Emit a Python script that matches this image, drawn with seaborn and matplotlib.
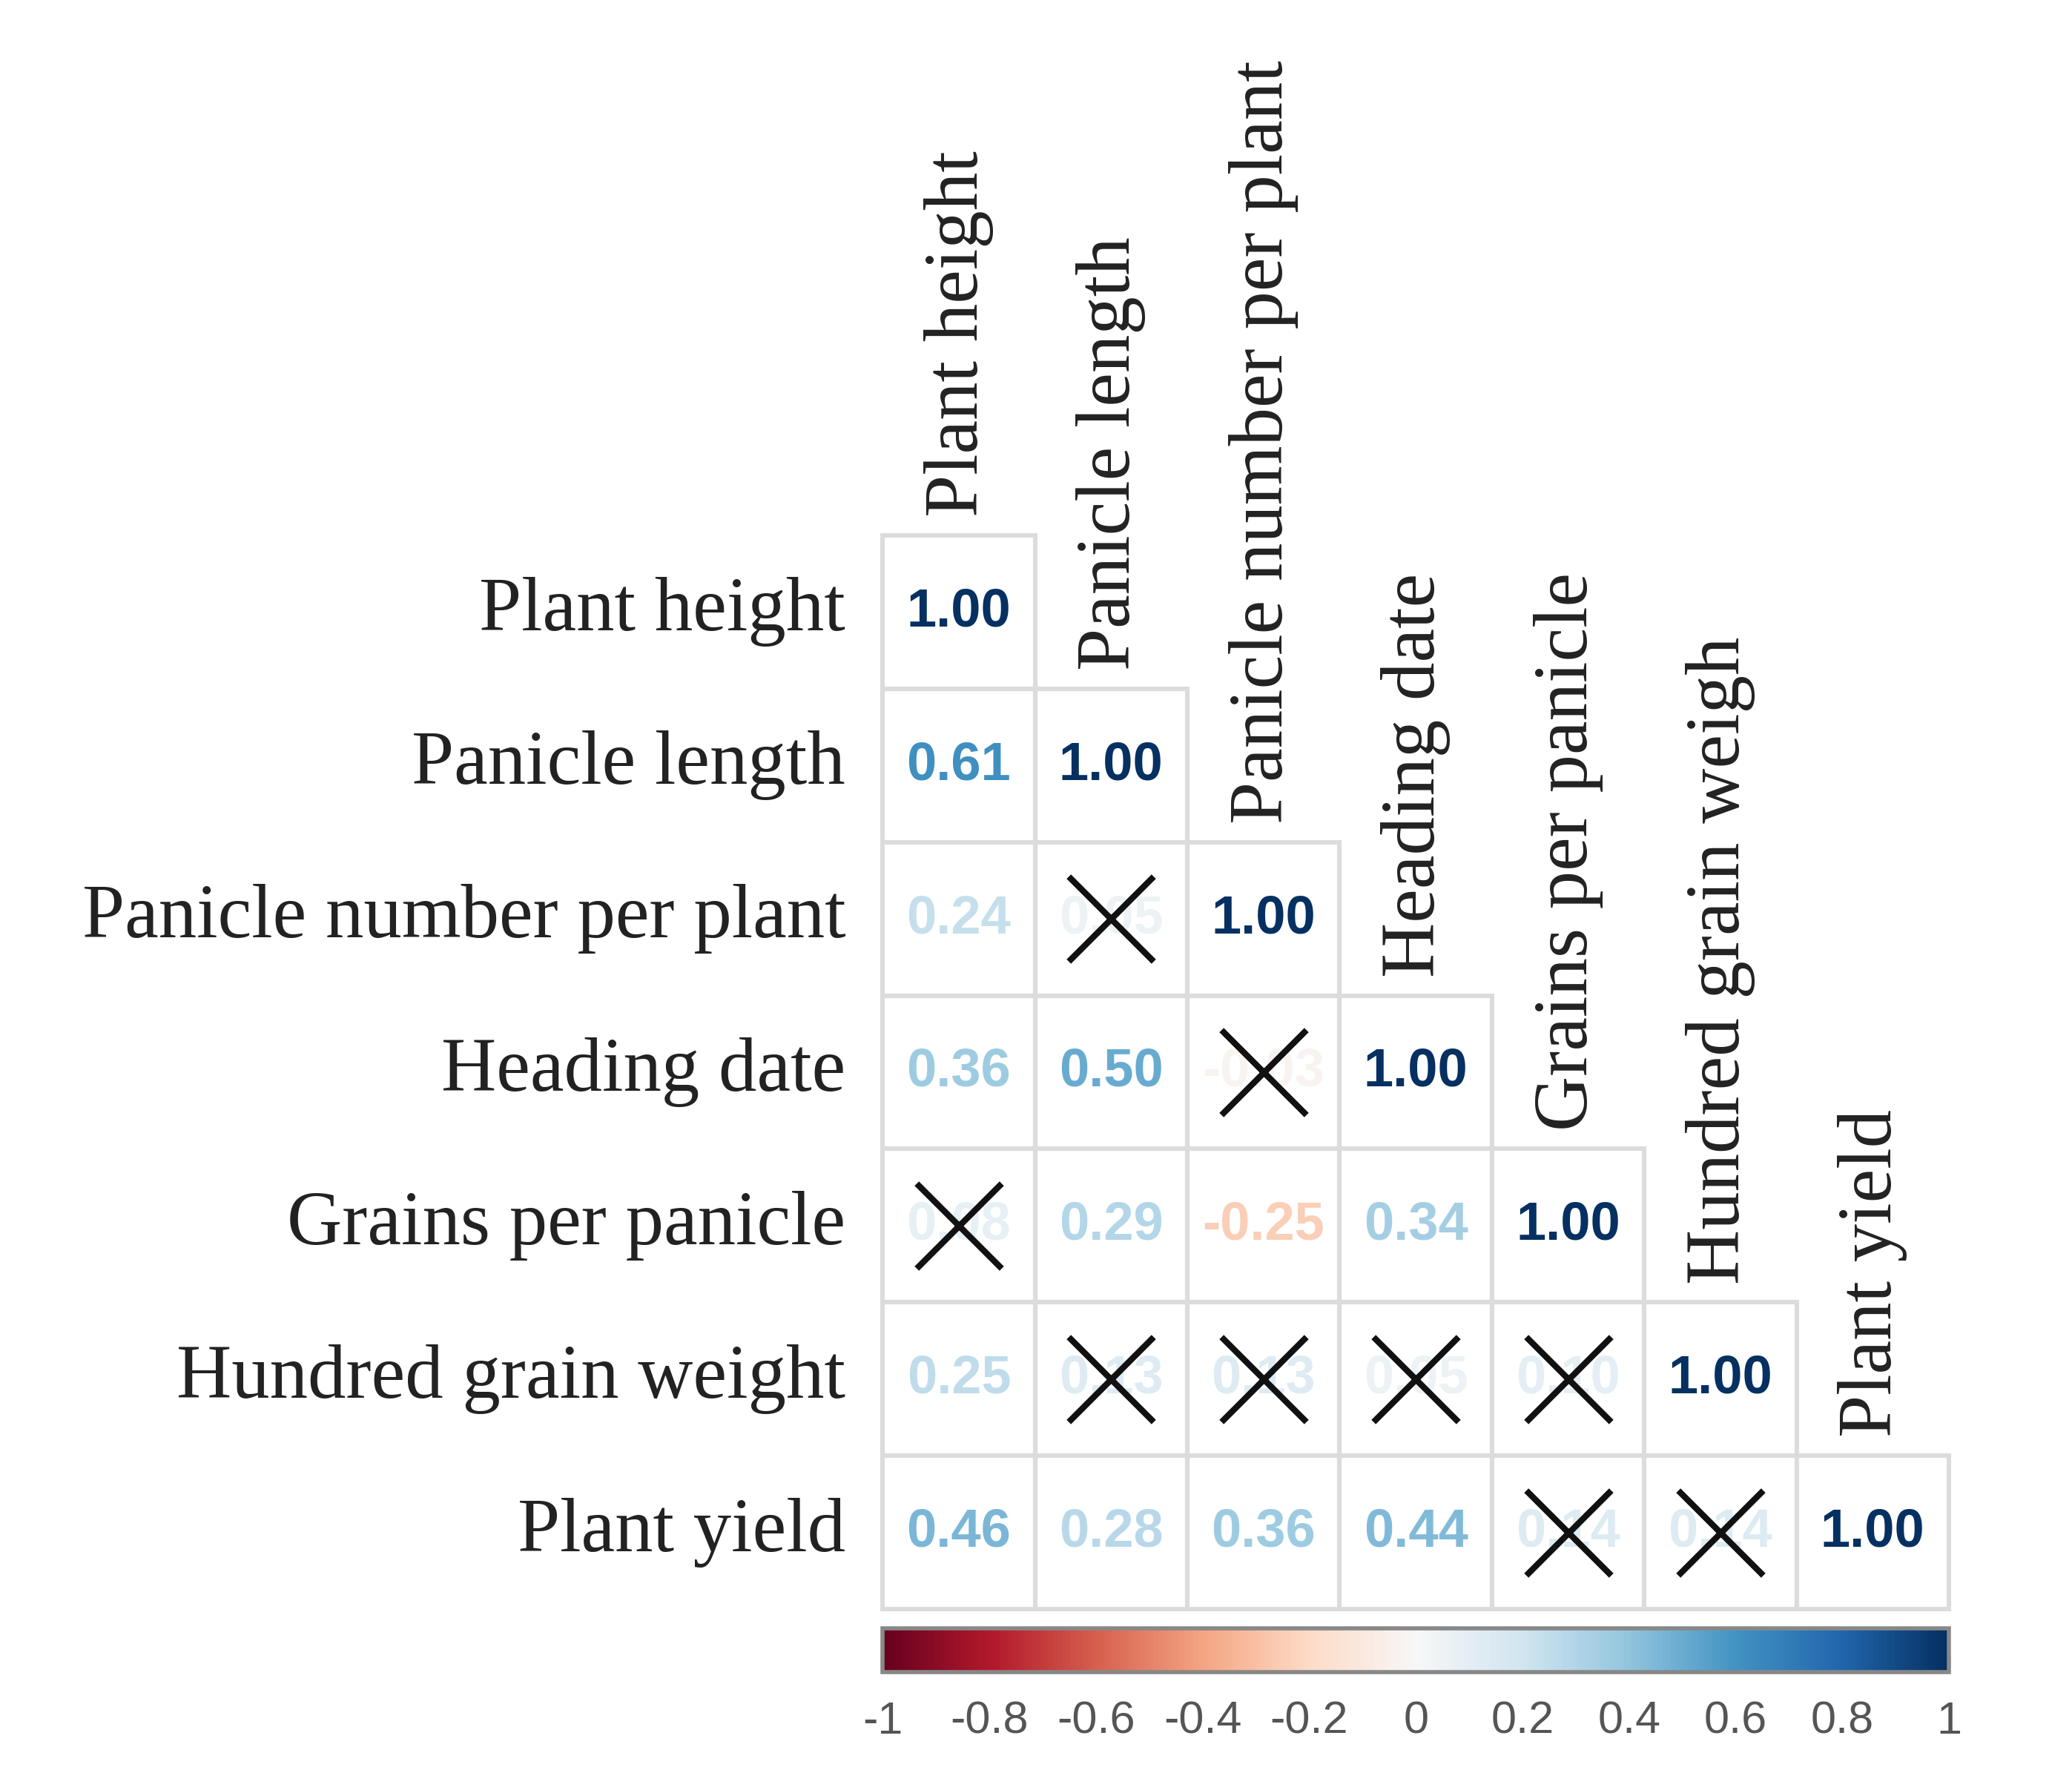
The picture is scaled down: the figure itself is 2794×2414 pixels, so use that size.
import numpy as np
import pandas as pd
import matplotlib
matplotlib.use('Agg')
import matplotlib.pyplot as plt
import seaborn as sns
from matplotlib.colors import ListedColormap, Normalize
from matplotlib.patches import Rectangle

# Trait names
traits = ['Plant height', 'Panicle length', 'Panicle number per plant',
          'Heading date', 'Grains per panicle', 'Hundred grain weight', 'Plant yield']
col_labels = ['Plant height', 'Panicle length', 'Panicle number per plant',
              'Heading date', 'Grains per panicle', 'Hundred grain weigh', 'Plant yield']

# Lower triangle correlations, row by row
r_ph = [1.00]
r_pl = [0.61, 1.00]
r_pn = [0.24, 0.05, 1.00]
r_hd = [0.36, 0.50, -0.03, 1.00]
r_gp = [0.08, 0.29, -0.25, 0.34, 1.00]
r_hg = [0.25, 0.13, 0.13, 0.05, 0.10, 1.00]
r_py = [0.46, 0.28, 0.36, 0.44, 0.14, 0.14, 1.00]

# Non-significant cells (row, col) marked with a cross
nonsig = [(2, 1), (3, 2), (4, 0), (5, 1), (5, 2), (5, 3), (5, 4), (6, 4), (6, 5)]

n = len(traits)
corr = np.zeros((n, n))
for i, row in enumerate([r_ph, r_pl, r_pn, r_hd, r_gp, r_hg, r_py]):
    corr[i, :len(row)] = row
    corr[:len(row), i] = row
corr_df = pd.DataFrame(corr, index=traits, columns=traits)
mask = np.triu(np.ones((n, n), dtype=bool), k=1)

sns.set_style('white')
plt.rcParams['font.family'] = ['Liberation Serif', 'DejaVu Serif']

fig = plt.figure(figsize=(13.97, 12.07), dpi=200)
ax = fig.add_axes([0.426, 0.101, 0.5146, 0.600])

# White cells, values coloured by RdBu
sns.heatmap(corr_df, mask=mask, cmap=ListedColormap(['white']), cbar=False,
            linewidths=0, square=False, ax=ax,
            xticklabels=False, yticklabels=True)

# grey borders only around the lower-triangle cells
for i in range(n):
    for j in range(i + 1):
        ax.add_patch(Rectangle((j, i), 1, 1, fill=False, edgecolor='#dcdcdc',
                               linewidth=2.2, zorder=2, clip_on=False))

cmap = plt.get_cmap('RdBu')
norm = Normalize(-1, 1)
for i in range(n):
    for j in range(i + 1):
        ax.text(j + 0.5, i + 0.5, f'{corr[i, j]:.2f}', ha='center', va='center',
                fontsize=26, fontweight='bold', family='Liberation Sans',
                color=cmap(norm(corr[i, j])))

xs = [c + 0.5 for r, c in nonsig]
ys = [r + 0.5 for r, c in nonsig]
ax.scatter(xs, ys, marker='x', s=1700, c='#111111', linewidths=3, zorder=5)

ax.set_yticklabels(traits, rotation=0, fontsize=37, color='#222222')
ax.tick_params(axis='y', length=0, pad=18)

# column labels above the diagonal
for j, lab in enumerate(col_labels):
    ax.text(j + 0.5, j - 0.12, lab, rotation=90, ha='center', va='bottom',
            fontsize=37, color='#222222', clip_on=False)

for s in ax.spines.values():
    s.set_visible(False)

# colour bar
cax = fig.add_axes([0.426, 0.066, 0.5146, 0.0244])
sm = plt.cm.ScalarMappable(cmap=cmap, norm=norm)
cb = fig.colorbar(sm, cax=cax, orientation='horizontal',
                  ticks=np.round(np.arange(-1, 1.01, 0.2), 1))
cb.set_ticklabels(['-1', '-0.8', '-0.6', '-0.4', '-0.2', '0', '0.2', '0.4', '0.6', '0.8', '1'])
cb.outline.set_edgecolor('#888888')
cb.outline.set_linewidth(2)
cax.tick_params(axis='x', direction='in', length=8, width=1.5, color='#666666',
                labelsize=22, labelcolor='#555555', pad=14)
for t in cax.get_xticklabels():
    t.set_family('Liberation Sans')

fig.savefig('out.png', dpi=200, facecolor='white')
